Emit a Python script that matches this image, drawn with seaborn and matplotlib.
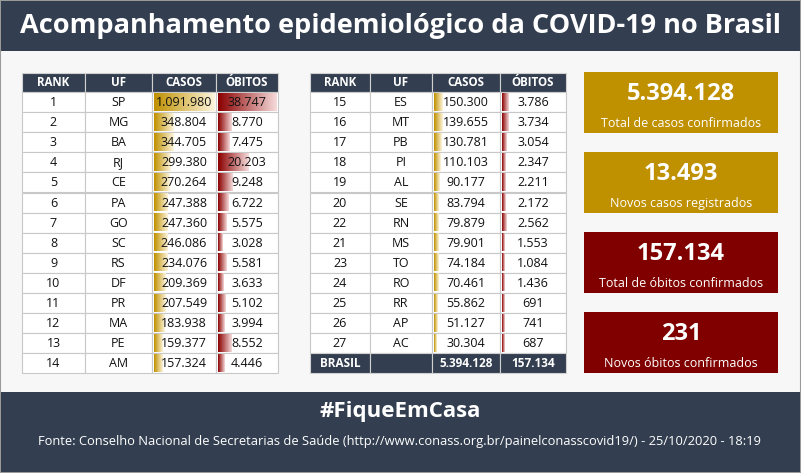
import numpy as np
import matplotlib.pyplot as plt
import matplotlib.colors as mcolors
import seaborn as sns

sns.set_theme(style="white")
plt.rcParams["font.family"] = "Open Sans"

rank_a = ["1", "2", "3", "4", "5", "6", "7", "8", "9", "10", "11", "12", "13", "14"]
uf_a = ["SP", "MG", "BA", "RJ", "CE", "PA", "GO", "SC", "RS", "DF", "PR", "MA", "PE", "AM"]
casos_a = [1091980, 348804, 344705, 299380, 270264, 247388, 247360, 246086, 234076,
           209369, 207549, 183938, 159377, 157324]
obitos_a = [38747, 8770, 7475, 20203, 9248, 6722, 5575, 3028, 5581, 3633, 5102, 3994, 8552, 4446]

rank_b = ["15", "16", "17", "18", "19", "20", "22", "21", "23", "24", "25", "26", "27"]
uf_b = ["ES", "MT", "PB", "PI", "AL", "SE", "RN", "MS", "TO", "RO", "RR", "AP", "AC"]
casos_b = [150300, 139655, 130781, 110103, 90177, 83794, 79879, 79901, 74184, 70461, 55862, 51127, 30304]
obitos_b = [3786, 3734, 3054, 2347, 2211, 2172, 2562, 1553, 1084, 1436, 691, 741, 687]

total_casos = 5394128
total_obitos = 157134
cards = [("5.394.128", "Total de casos confirmados"),
         ("13.493", "Novos casos registrados"),
         ("157.134", "Total de óbitos confirmados"),
         ("231", "Novos óbitos confirmados")]

DARK = "#333f50"
GOLD = "#bf9000"
RED = "#800000"


def fmt(v):
    return f"{v:,}".replace(",", ".")


fig = plt.figure(figsize=(8.01, 4.73), dpi=100)
ax = fig.add_axes([0, 0, 1, 1])
ax.set_xlim(0, 801)
ax.set_ylim(473, 0)
ax.axis("off")

ax.add_patch(plt.Rectangle((0, 0), 801, 473, fc="#f7f7f7", ec="#9a9a9a", lw=1.5))
ax.add_patch(plt.Rectangle((1, 1), 799, 50, fc=DARK, ec="none"))
ax.text(400, 26, "Acompanhamento epidemiológico da COVID-19 no Brasil", color="white",
        fontsize=19.5, fontweight="bold", ha="center", va="center")

ax.add_patch(plt.Rectangle((1, 392), 799, 80, fc=DARK, ec="none"))
ax.text(400, 411, "#FiqueEmCasa", color="white", fontsize=16, fontweight="bold",
        ha="center", va="center")
ax.text(400, 441, "Fonte: Conselho Nacional de Secretarias de Saúde (http://www.conass.org.br/painelconasscovid19/) - 25/10/2020 - 18:19",
        color="white", fontsize=9.3, ha="center", va="center")

cmax = max(casos_a)
omax = max(obitos_a)
gold_cm = mcolors.LinearSegmentedColormap.from_list("g", [GOLD, "#fdf5dc"])
red_cm = mcolors.LinearSegmentedColormap.from_list("r", ["#8b0000", "#f6dada"])
grad = np.linspace(0, 1, 64).reshape(1, -1)


def table(x0, cols_w, ranks, ufs, casos, obitos, total=False):
    xs = np.concatenate([[x0], x0 + np.cumsum(cols_w)])
    y0, hh, rh = 73, 19, 20.1
    for i, name in enumerate(["RANK", "UF", "CASOS", "ÓBITOS"]):
        ax.add_patch(plt.Rectangle((xs[i], y0), cols_w[i], hh, fc=DARK, ec="#d0d0d0", lw=0.8))
        ax.text((xs[i] + xs[i + 1]) / 2, y0 + hh / 2, name, color="white", fontsize=8.3,
                fontweight="bold", ha="center", va="center")
    for r in range(len(ranks)):
        top = y0 + hh + r * rh
        for i in range(4):
            ax.add_patch(plt.Rectangle((xs[i], top), cols_w[i], rh, fc="white", ec="#c8c8c8", lw=0.8))
        for i, (val, vmax, cm) in enumerate([(casos[r], cmax, gold_cm), (obitos[r], omax, red_cm)]):
            cx = xs[2 + i] + 1.5
            w = max(3, (cols_w[2 + i] - 3) * val / vmax)
            ax.imshow(grad, cmap=cm, aspect="auto", extent=(cx, cx + w, top + rh - 1.5, top + 1.5),
                      interpolation="bilinear", zorder=2)
        vals = [ranks[r], ufs[r], fmt(casos[r]), fmt(obitos[r])]
        for i, v in enumerate(vals):
            ax.text((xs[i] + xs[i + 1]) / 2, top + rh / 2 + 0.5, v, fontsize=9, color="#111111",
                    ha="center", va="center", zorder=3)
    if total:
        top = y0 + hh + len(ranks) * rh
        vals = ["BRASIL", "", fmt(total_casos), fmt(total_obitos)]
        for i, v in enumerate(vals):
            ax.add_patch(plt.Rectangle((xs[i], top), cols_w[i], rh, fc=DARK, ec="#d0d0d0", lw=0.8))
            ax.text((xs[i] + xs[i + 1]) / 2, top + rh / 2, v, color="white", fontsize=8.5,
                    fontweight="bold", ha="center", va="center")


table(22, [63, 67, 64, 62], rank_a, uf_a, casos_a, obitos_a)
table(310, [60, 62, 68, 66], rank_b, uf_b, casos_b, obitos_b, total=True)

for k, (big, small) in enumerate(cards):
    top = [72, 152, 232, 312][k]
    ax.add_patch(plt.Rectangle((584, top), 194, 61, fc=GOLD if k < 2 else RED, ec="none"))
    ax.text(681, top + 22, big, color="white", fontsize=17, fontweight="bold", ha="center", va="center")
    ax.text(681, top + 51, small, color="white", fontsize=9, ha="center", va="center")

fig.savefig("out.png", dpi=100)
